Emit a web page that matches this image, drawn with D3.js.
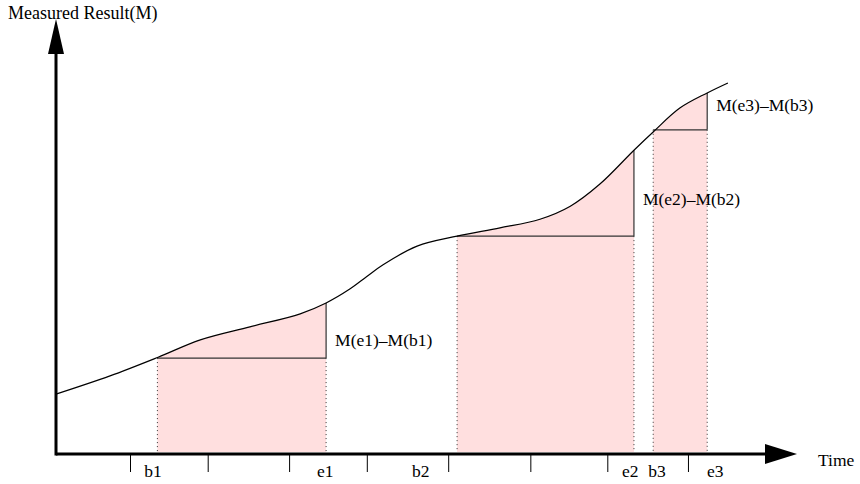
<!DOCTYPE html>
<html>
<head>
<meta charset="utf-8">
<script src="https://cdn.jsdelivr.net/npm/d3@7"></script>
<style>
  html, body { margin: 0; padding: 0; background: #fff; }
  svg { display: block; }
  text { font-family: "Liberation Serif", "Times New Roman", serif; fill: #000; }
</style>
</head>
<body>
<svg id="chart" width="860" height="484"></svg>
<script>
// ---- data ----
const curveT = [0, 7.3, 13.8, 19.5, 26.2, 33.0, 36.5, 39.7, 42.0, 44.2, 48.8, 54.2, 60.0, 65.4, 69.5, 73.5, 78.1, 80.7, 84.3, 88.0, 90.8];
const curveM = [13.8, 18.0, 22.3, 26.3, 29.3, 32.3, 34.8, 38.0, 40.9, 43.6, 47.9, 50.2, 52.1, 54.1, 57.1, 62.2, 70.0, 74.2, 79.7, 83.2, 85.5];

const regionBegin = [13.7, 54.2, 80.7];
const regionEnd   = [36.5, 78.1, 88.0];
const mBegin      = [22.1, 50.2, 74.7];
const mEnd        = [34.8, 70.0, 83.2];
const diffLabels  = ["M(e1)\u2013M(b1)", "M(e2)\u2013M(b2)", "M(e3)\u2013M(b3)"];

const tickValues  = [10.0, 20.5, 31.5, 42.0, 53.0, 64.1, 74.5, 85.4];
const tickLabelT  = [13.1, 36.4, 49.3, 77.6, 81.2, 89.1];
const tickLabels  = ["b1", "e1", "b2", "e2", "b3", "e3"];

const xTitle = "Time";
const yTitle = "Measured Result(M)";

// ---- layout ----
const svg = d3.select("#chart");
const x = d3.scaleLinear().domain([0, 100]).range([56, 796]);
const y = d3.scaleLinear().domain([0, 100]).range([454, 20]);

const pts = curveT.map((t, i) => [t, curveM[i]]);
const curveType = d3.curveCatmullRom.alpha(0.5);
const curveGen = d3.line().x(d => x(d[0])).y(d => y(d[1])).curve(curveType);
const areaGen = d3.area().x(d => x(d[0])).y0(y(0) - 2).y1(d => y(d[1])).curve(curveType);

const defs = svg.append("defs");
regionBegin.forEach((b, i) => {
  defs.append("clipPath").attr("id", "clip" + i)
    .append("rect")
    .attr("x", x(b)).attr("y", 0)
    .attr("width", x(regionEnd[i]) - x(b)).attr("height", 484);
});

// shaded regions
regionBegin.forEach((b, i) => {
  svg.append("path").datum(pts)
    .attr("d", areaGen)
    .attr("fill", "#ffdfdf")
    .attr("clip-path", `url(#clip${i})`);
});

// region guide lines
regionBegin.forEach((b, i) => {
  const e = regionEnd[i];
  svg.append("line")
    .attr("x1", x(b)).attr("x2", x(e))
    .attr("y1", y(mBegin[i])).attr("y2", y(mBegin[i]))
    .attr("stroke", "#333").attr("stroke-width", 1.2);
  svg.append("line")
    .attr("x1", x(e)).attr("x2", x(e))
    .attr("y1", y(mBegin[i])).attr("y2", y(mEnd[i]))
    .attr("stroke", "#333").attr("stroke-width", 1.2);
  [b, e].forEach(t => {
    svg.append("line")
      .attr("x1", x(t)).attr("x2", x(t))
      .attr("y1", y(mBegin[i])).attr("y2", y(0) - 2)
      .attr("stroke", "#333").attr("stroke-width", 1)
      .attr("stroke-dasharray", "1,3");
  });
});

// curve
svg.append("path").datum(pts)
  .attr("d", curveGen)
  .attr("fill", "none")
  .attr("stroke", "#000")
  .attr("stroke-width", 1.2);

// difference labels
const labelDy = [15, 12, 0];
diffLabels.forEach((lab, i) => {
  const mid = (y(mBegin[i]) + y(mEnd[i])) / 2;
  svg.append("text")
    .attr("x", x(regionEnd[i]) + 9)
    .attr("y", mid + labelDy[i])
    .attr("font-size", 17.5)
    .text(lab);
});

// axes
const x0 = x(0), y0 = y(0);
svg.append("line")
  .attr("x1", x0).attr("x2", 770).attr("y1", y0).attr("y2", y0)
  .attr("stroke", "#000").attr("stroke-width", 3);
svg.append("line")
  .attr("x1", x0).attr("x2", x0).attr("y1", y0 + 1.5).attr("y2", 50)
  .attr("stroke", "#000").attr("stroke-width", 3);
svg.append("path")
  .attr("d", `M${x0},19 L${x0 + 8},54 L${x0 - 8},54 Z`)
  .attr("fill", "#000");
svg.append("path")
  .attr("d", `M797,${y0} L765,${y0 - 10} L765,${y0 + 10} Z`)
  .attr("fill", "#000");

// ticks
const tickAxis = d3.axisBottom(x).tickValues(tickValues).tickSize(17).tickFormat("");
const tg = svg.append("g").attr("transform", `translate(0,${y0 + 1})`).call(tickAxis);
tg.select(".domain").remove();
tg.selectAll("line").attr("stroke", "#000").attr("stroke-width", 1);

// tick labels
tickLabels.forEach((lab, i) => {
  svg.append("text")
    .attr("x", x(tickLabelT[i]))
    .attr("y", 477)
    .attr("text-anchor", "middle")
    .attr("font-size", 17.5)
    .text(lab);
});

// axis titles
svg.append("text").attr("x", 818).attr("y", 466).attr("font-size", 17.5).text(xTitle);
svg.append("text").attr("x", 8).attr("y", 19).attr("font-size", 18).text(yTitle);
</script>
</body>
</html>
